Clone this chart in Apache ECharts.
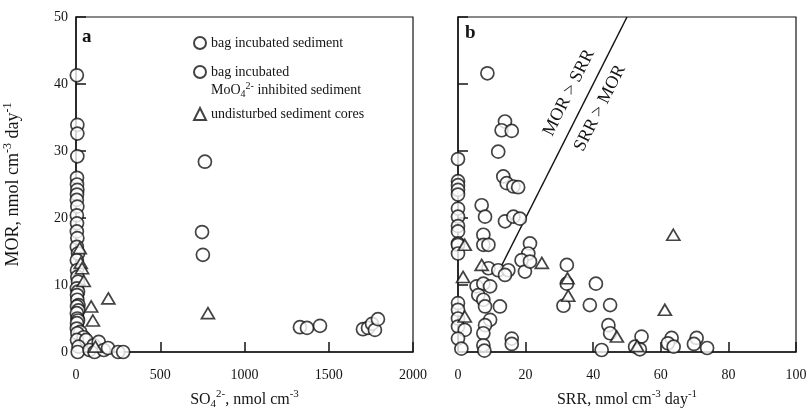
<!DOCTYPE html>
<html><head><meta charset="utf-8">
<script src="https://cdn.jsdelivr.net/npm/echarts@6/dist/echarts.min.js"></script>
<style>html,body{margin:0;padding:0;background:#fff}#c{width:810px;height:415px}</style>
</head><body><div id="c"></div>
<script>
const FONT = '"Liberation Serif","DejaVu Serif","Times New Roman",serif';
const INK = '#141414';

// ---- names ----
const nameBag = 'bag incubated sediment';
const nameMo = 'bag incubated MoO4 inhibited sediment';
const nameCore = 'undisturbed sediment cores';

// ---- axis ranges / ticks ----
const xRangeA = [0, 2000], xStepA = 500;
const xRangeB = [0, 100], xStepB = 20;
const yRange = [0, 50], yStep = 10;

// ---- panel a: [SO4 nmol cm-3, MOR] ----
const aBag = [
  [5,41.3],[8,33.9],[8,32.6],[8,29.2],[6,26],[6,25],[8,24.2],[6,23.5],[5,22.7],[8,21.7],
  [5,20.4],[6,19.2],[5,18],[8,17],[5,15.7],[12,14.7],[5,13.7],[6,12.2],[8,11.2],[12,10.5],
  [5,9.5],[12,9],[6,8.5],[8,7.8],[15,7],[6,6.8],[14,6.2],[5,5.8],[8,5],[12,4.7],[6,4.3],
  [5,3.5],[25,3],[8,2.8],[45,2.2],[6,1.8],[60,1.8],[15,0.8],[105,1],[10,0],[80,0.3],[110,0],
  [135,1.5],[165,0.3],[190,0.6],[250,0],[280,0]
];
const aMo = [
  [765,28.4],[748,17.9],[753,14.5],[1329,3.7],[1371,3.6],[1448,3.9],
  [1703,3.4],[1733,3.6],[1757,4.2],[1774,3.3],[1792,4.9]
];
const aCore = [
  [22,15.5],[28,13.3],[36,12.5],[46,10.6],[192,8],[90,6.8],[100,4.7],[115,0.8],[783,5.8]
];

// ---- panel b: [SRR, MOR] ----
const bBag = [
  [0,28.8],[0,25.5],[0,24.9],[0,24.2],[0,23.5],[0,21.4],[0,20.2],[0,18.8],[0,18],[0,16.2],[0,16],
  [0,14.7],[0,7.3],[0,6.3],[0,5],[0,3.8],[2,3.3],[0,2],[1,0.5],
  [8.7,41.6],[13.9,34.4],[12.9,33.1],[15.9,33],[11.9,29.9],[13.4,26.2],[14.4,25.2],[16.4,24.7],[17.8,24.6],
  [7,21.9],[8,20.2],[13.9,19.5],[16.4,20.2],[18.3,19.9],[7.5,17.5],[7.5,16],[9,16],[9,12.5],
  [11.9,12.2],[14.9,12.2],[13.9,11.5],[5.5,9.8],[7.5,10.2],[9.5,9.8],[6,8.5],[7.5,7.8],[8,6.8],
  [12.4,6.8],[9.5,4.8],[8,4],[7.5,2.8],[7.5,1],[7.8,0.2],
  [21.3,16.2],[20.8,14.7],[18.8,13.7],[19.8,12],[21.3,13.5],[15.9,2],[15.9,1.2]
];
const bMo = [
  [32.2,13],[32.2,10.2],[31.2,6.9],[40.8,10.2],[39,7],[45,7],[44.5,4],[45,2.8],[42.5,0.3],
  [52.4,0.8],[54.3,2.3],[53.8,0.4],[63.2,2.1],[62.1,1.3],[63.8,0.8],[70.6,2.1],[69.8,1.2],[73.7,0.6]
];
const bCore = [
  [2,16],[1.5,11.2],[2,5.3],[7,13],[24.8,13.3],[32.4,11],[32.6,8.4],[47,2.3],[53,0.9],[63.7,17.5],[61.2,6.3]
];
// dividing line MOR = SRR
const lineMorSrr = [[12.5,12.5],[50,50]];

const sym = {color:'#fff', borderColor: INK, borderWidth: 1.7};
const lbl = {fontFamily: FONT, fontSize: 14, color: INK};
function richSet(fs) {
  const lh = Math.round(fs * 1.3);
  return {
    n: {fontFamily: FONT, fontSize: fs, color: INK, lineHeight: lh},
    sub: {fontFamily: FONT, fontSize: Math.round(fs*0.68), color: INK, verticalAlign: 'bottom', lineHeight: lh},
    sup: {fontFamily: FONT, fontSize: Math.round(fs*0.68), color: INK, verticalAlign: 'top', lineHeight: lh}
  };
}
const axisLine = {lineStyle: {color: INK, width: 1.5}};
const axisTick = {inside: true, length: 10, lineStyle: {color: INK, width: 1.5}};

function xAx(idx, range, step, name) {
  return {type:'value', gridIndex: idx, min: range[0], max: range[1], interval: step,
    axisLine, axisTick, splitLine:{show:false},
    axisLabel: Object.assign({margin: 16, formatter: v => String(v)}, lbl),
    name, nameLocation:'middle', nameGap: 37, nameTextStyle: {rich: richSet(16)}};
}
function yAx(idx, showLabel, name) {
  return {type:'value', gridIndex: idx, min: yRange[0], max: yRange[1], interval: yStep,
    axisLine, axisTick, splitLine:{show:false},
    axisLabel: Object.assign({show: showLabel, margin: 8}, lbl),
    name, nameLocation:'middle', nameGap: 51, nameTextStyle: {rich: richSet(18)}};
}
function sc(name, data, gi, tri) {
  return {type:'scatter', name, data, xAxisIndex: gi, yAxisIndex: gi,
    symbol: tri ? 'triangle' : 'circle', symbolSize: tri ? [13,11] : 13,
    itemStyle: sym, z: 3, silent: true};
}

const chart = echarts.init(document.getElementById('c'), null, {renderer:'canvas'});
const legRich = richSet(14);
const legendBase = {orient:'vertical', selectedMode:false, itemWidth:12, itemHeight:12,
  textStyle:{fontFamily: FONT, fontSize: 14, color: INK, rich: legRich}};
chart.setOption({
  animation: false,
  backgroundColor: '#fff',
  grid: [
    {left: 76, top: 17, width: 337, height: 335, show: true, borderColor: INK, borderWidth: 1.2},
    {left: 458, top: 17, width: 338, height: 335, show: true, borderColor: INK, borderWidth: 1.2}
  ],
  xAxis: [
    xAx(0, xRangeA, xStepA, '{n|SO}{sub|4}{sup|2-}{n|, nmol cm}{sup|-3}'),
    xAx(1, xRangeB, xStepB, '{n|SRR, nmol cm}{sup|-3}{n| day}{sup|-1}')
  ],
  yAxis: [
    yAx(0, true, '{n|MOR, nmol cm}{sup|-3}{n| day}{sup|-1}'),
    yAx(1, false, '')
  ],
  legend: [
    Object.assign({}, legendBase, {data:[nameBag], left: 188, top: 31, icon:'circle'}),
    Object.assign({}, legendBase, {data:[nameMo], left: 188, top: 40, icon:'circle',
      formatter: () => '{n|bag incubated}\n{n|MoO}{sub|4}{sup|2-}{n| inhibited sediment}',
      textStyle: Object.assign({}, legendBase.textStyle, {padding:[18,0,0,0], lineHeight:18})}),
    Object.assign({}, legendBase, {data:[nameCore], left: 188, top: 102, icon:'triangle'})
  ],
  series: [
    {type:'line', data: lineMorSrr, xAxisIndex:1, yAxisIndex:1, symbol:'none',
      lineStyle:{color: INK, width: 1.5}, z: 1, silent: true},
    sc(nameBag, aBag, 0, false), sc(nameMo, aMo, 0, false), sc(nameCore, aCore, 0, true),
    sc(nameBag, bBag, 1, false), sc(nameMo, bMo, 1, false), sc(nameCore, bCore, 1, true)
  ]
});

// annotations positioned from data coordinates
const p0 = chart.convertToPixel({xAxisIndex:1, yAxisIndex:1}, lineMorSrr[0]);
const p1 = chart.convertToPixel({xAxisIndex:1, yAxisIndex:1}, lineMorSrr[1]);
const ang = Math.atan2(p0[1]-p1[1], p1[0]-p0[0]);
const t1 = chart.convertToPixel({xAxisIndex:1, yAxisIndex:1}, [32.8, 38.7]);
const t2 = chart.convertToPixel({xAxisIndex:1, yAxisIndex:1}, [42, 36.4]);
const ga = chart.convertToPixel({xAxisIndex:0, yAxisIndex:0}, [0, 50]);
const gb = chart.convertToPixel({xAxisIndex:1, yAxisIndex:1}, [0, 50]);
chart.setOption({
  graphic: [
    {type:'text', x: t1[0], y: t1[1], rotation: ang,
      style:{text:'MOR > SRR', fontFamily: FONT, fontSize: 18, fill: INK, align:'center', verticalAlign:'middle'}},
    {type:'text', x: t2[0], y: t2[1], rotation: ang,
      style:{text:'SRR > MOR', fontFamily: FONT, fontSize: 18, fill: INK, align:'center', verticalAlign:'middle'}},
    {type:'text', x: ga[0]+6, y: ga[1]+11,
      style:{text:'a', fontFamily: FONT, fontSize: 19, fontWeight:'bold', fill: INK}},
    {type:'text', x: gb[0]+7, y: gb[1]+7,
      style:{text:'b', fontFamily: FONT, fontSize: 19, fontWeight:'bold', fill: INK}}
  ]
});
</script></body></html>
